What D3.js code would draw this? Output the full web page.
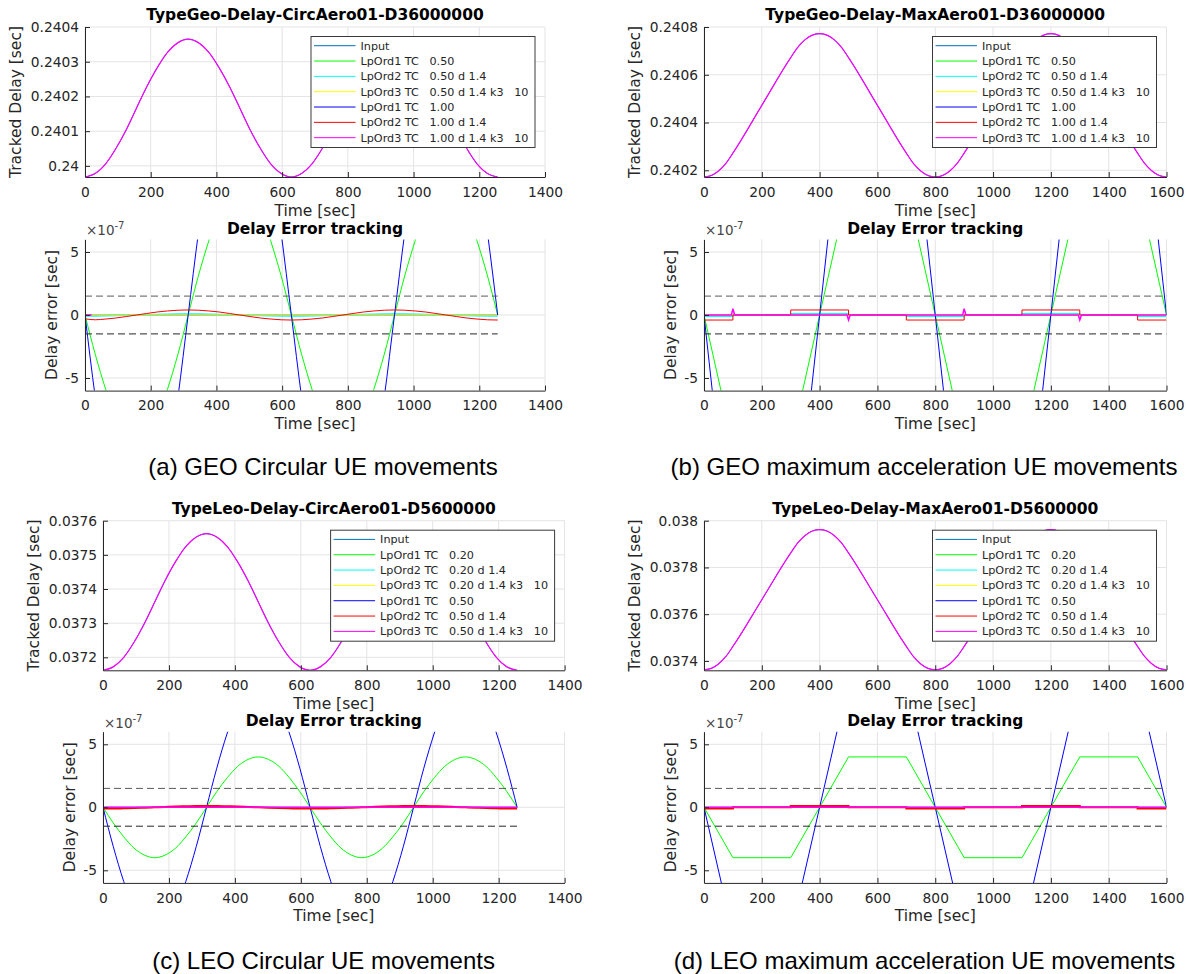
<!DOCTYPE html>
<html><head><meta charset="utf-8">
<script src="https://cdn.jsdelivr.net/npm/d3@7"></script>
<style>
body{margin:0;background:#fff;}
svg{display:block;}
</style></head><body>
<svg id="chart" width="1186" height="974"></svg>
<script>
// ================= DATA =================
// Circular UE movement: sampled time axis [sec]
const circTime = [0,31,63,94,126,157,188,220,251,283,314,345,377,408,440,471,502,534,565,597,628,659,691,722,754,785,816,848,879,911,942,973,1005,1036,1068,1099,1130,1162,1193,1225,1256];
// Max-acceleration UE movement: sampled time axis [sec]
const maxTime = [0,25,50,75,100,200,300,325,350,375,400,425,450,475,500,600,700,725,750,775,800,825,850,875,900,1000,1100,1125,1150,1175,1200,1225,1250,1275,1300,1400,1500,1525,1550,1575,1600];
// Breakpoints of the max-acceleration error profiles [sec]
const maxBreaks = [0,100,300,500,700,900,1100,1300,1500,1600];

// (a) GEO circular: tracked delay [sec]
const geoCircDelay = [0.239968,0.239978,0.240006,0.240050,0.240105,0.240167,0.240228,0.240283,0.240327,0.240355,0.240365,0.240355,0.240327,0.240283,0.240228,0.240167,0.240105,0.240050,0.240006,0.239978,0.239968,0.239978,0.240006,0.240050,0.240105,0.240167,0.240228,0.240283,0.240327,0.240355,0.240365,0.240355,0.240327,0.240283,0.240228,0.240167,0.240105,0.240050,0.240006,0.239978,0.239968];
// (a) GEO circular: delay errors [x1e-7 sec]
const geoCircErrLp1Slow = [0,-3.1,-5.9,-8.2,-9.6,-10.1,-9.6,-8.2,-5.9,-3.1,0,3.1,5.9,8.2,9.6,10.1,9.6,8.2,5.9,3.1,0,-3.1,-5.9,-8.2,-9.6,-10.1,-9.6,-8.2,-5.9,-3.1,0,3.1,5.9,8.2,9.6,10.1,9.6,8.2,5.9,3.1,0];
const geoCircErrLp1Fast = [0,-6.5,-12.3,-17,-20,-21,-20,-17,-12.3,-6.5,0,6.5,12.3,17,20,21,20,17,12.3,6.5,0,-6.5,-12.3,-17,-20,-21,-20,-17,-12.3,-6.5,0,6.5,12.3,17,20,21,20,17,12.3,6.5,0];
const geoCircErrLp2Fast = [-0.3,-0.38,-0.32,-0.24,-0.12,0,0.12,0.24,0.32,0.38,0.4,0.38,0.32,0.24,0.12,0,-0.12,-0.24,-0.32,-0.38,-0.4,-0.38,-0.32,-0.24,-0.12,0,0.12,0.24,0.32,0.38,0.4,0.38,0.32,0.24,0.12,0,-0.12,-0.24,-0.32,-0.38,-0.4];
const geoCircErrLp2Slow = [-0.1,-0.1,-0.08,-0.06,-0.03,0,0.03,0.06,0.08,0.1,0.1,0.1,0.08,0.06,0.03,0,-0.03,-0.06,-0.08,-0.1,-0.1,-0.1,-0.08,-0.06,-0.03,0,0.03,0.06,0.08,0.1,0.1,0.1,0.08,0.06,0.03,0,-0.03,-0.06,-0.08,-0.1,-0.1];

// (b) GEO max acceleration: tracked delay [sec]
const geoMaxDelay = [0.240172,0.240178,0.240197,0.240228,0.240272,0.240472,0.240672,0.240716,0.240747,0.240766,0.240772,0.240766,0.240747,0.240716,0.240672,0.240472,0.240272,0.240228,0.240197,0.240178,0.240172,0.240178,0.240197,0.240228,0.240272,0.240472,0.240672,0.240716,0.240747,0.240766,0.240772,0.240766,0.240747,0.240716,0.240672,0.240472,0.240272,0.240228,0.240197,0.240178,0.240172];
// (b) GEO max acceleration: delay errors [x1e-7 sec] at maxBreaks
const geoMaxErrLp1Slow = [0,-10.2,-10.2,10.2,10.2,-10.2,-10.2,10.2,10.2,0];
const geoMaxErrLp1Fast = [0,-21,-21,21,21,-21,-21,21,21,0];
const geoMaxErrLp2Fast = [-0.4,0,0.4,0,-0.4,0,0.4,0,-0.4,-0.4];
const geoMaxErrLp2Slow = [-0.1,0,0.1,0,-0.1,0,0.1,0,-0.1,-0.1];
const geoMaxLp3Time = [0,95,100,106,495,500,506,895,900,906,1295,1300,1306,1600];
const geoMaxErrLp3Fast = [0,0,0.5,0,0,-0.4,0,0,0.5,0,0,-0.4,0,0];

// (c) LEO circular: tracked delay [sec]
const leoCircDelay = [0.037162,0.037172,0.037200,0.037244,0.037300,0.037362,0.037424,0.037480,0.037524,0.037552,0.037562,0.037552,0.037524,0.037480,0.037424,0.037362,0.037300,0.037244,0.037200,0.037172,0.037162,0.037172,0.037200,0.037244,0.037300,0.037362,0.037424,0.037480,0.037524,0.037552,0.037562,0.037552,0.037524,0.037480,0.037424,0.037362,0.037300,0.037244,0.037200,0.037172,0.037162];
// (c) LEO circular: delay errors [x1e-7 sec]
const leoCircErrLp1Slow = [0,-1.24,-2.35,-3.24,-3.8,-4,-3.8,-3.24,-2.35,-1.24,0,1.24,2.35,3.24,3.8,4,3.8,3.24,2.35,1.24,0,-1.24,-2.35,-3.24,-3.8,-4,-3.8,-3.24,-2.35,-1.24,0,1.24,2.35,3.24,3.8,4,3.8,3.24,2.35,1.24,0];
const leoCircErrLp1Fast = [0,-3.1,-5.9,-8.1,-9.5,-10,-9.5,-8.1,-5.9,-3.1,0,3.1,5.9,8.1,9.5,10,9.5,8.1,5.9,3.1,0,-3.1,-5.9,-8.1,-9.5,-10,-9.5,-8.1,-5.9,-3.1,0,3.1,5.9,8.1,9.5,10,9.5,8.1,5.9,3.1,0];
const leoCircErrLp2Fast = [-0.1,-0.1,-0.08,-0.06,-0.03,0,0.03,0.06,0.08,0.1,0.1,0.1,0.08,0.06,0.03,0,-0.03,-0.06,-0.08,-0.1,-0.1,-0.1,-0.08,-0.06,-0.03,0,0.03,0.06,0.08,0.1,0.1,0.1,0.08,0.06,0.03,0,-0.03,-0.06,-0.08,-0.1,-0.1];

// (d) LEO max acceleration: tracked delay [sec]
const leoMaxDelay = [0.037362,0.037368,0.037387,0.037418,0.037462,0.037662,0.037862,0.037906,0.037937,0.037956,0.037962,0.037956,0.037937,0.037906,0.037862,0.037662,0.037462,0.037418,0.037387,0.037368,0.037362,0.037368,0.037387,0.037418,0.037462,0.037662,0.037862,0.037906,0.037937,0.037956,0.037962,0.037956,0.037937,0.037906,0.037862,0.037662,0.037462,0.037418,0.037387,0.037368,0.037362];
// (d) LEO max acceleration: delay errors [x1e-7 sec] at maxBreaks
const leoMaxErrLp1Slow = [0,-4,-4,4,4,-4,-4,4,4,0];
const leoMaxErrLp1Fast = [0,-10,-10,10,10,-10,-10,10,10,0];
const leoMaxErrLp2Fast = [-0.1,0,0.1,0,-0.1,0,0.1,0,-0.1,-0.1];

// Zero-error traces and thresholds [x1e-7 sec]
const zeroErr = [0,0];
const errThreshold = [1.5,-1.5];

// Tick values
const circXTicks = [0,200,400,600,800,1000,1200,1400];
const maxXTicks = [0,200,400,600,800,1000,1200,1400,1600];
const geoCircYTicks = [0.24,0.2401,0.2402,0.2403,0.2404];
const geoMaxYTicks = [0.2402,0.2404,0.2406,0.2408];
const leoCircYTicks = [0.0372,0.0373,0.0374,0.0375,0.0376];
const leoMaxYTicks = [0.0374,0.0376,0.0378,0.038];
const errYTicks = [-5,0,5];

// Legend labels
const geoLegend = ["Input","LpOrd1 TC   0.50","LpOrd2 TC   0.50 d 1.4","LpOrd3 TC   0.50 d 1.4 k3   10","LpOrd1 TC   1.00","LpOrd2 TC   1.00 d 1.4","LpOrd3 TC   1.00 d 1.4 k3   10"];
const leoLegend = ["Input","LpOrd1 TC   0.20","LpOrd2 TC   0.20 d 1.4","LpOrd3 TC   0.20 d 1.4 k3   10","LpOrd1 TC   0.50","LpOrd2 TC   0.50 d 1.4","LpOrd3 TC   0.50 d 1.4 k3   10"];
const seriesColors = ['#0072BD','#00ff00','#00ffff','#ffff00','#0000ff','#ff0000','#ff00ff'];

// ================= DRAWING =================
const FONT = '"DejaVu Sans", sans-serif';
const INK = '#262626';
const GRID = '#e4e4e4';
const svg = d3.select('#chart');
svg.append('rect').attr('width',1186).attr('height',974).attr('fill','#fff');
const defs = svg.append('defs');
let clipN = 0;

function makeAxes(L, xDomain, yDomain, xTicks, yTicks) {
  const x = d3.scaleLinear().domain(xDomain).range([L.x0, L.x1]);
  const y = d3.scaleLinear().domain(yDomain).range([L.y1, L.y0]);
  const g = svg.append('g');
  g.append('g').selectAll('line').data(xTicks).join('line')
    .attr('x1', d => x(d)).attr('x2', d => x(d)).attr('y1', L.y0).attr('y2', L.y1)
    .attr('stroke', GRID).attr('stroke-width', 1);
  g.append('g').selectAll('line').data(yTicks).join('line')
    .attr('y1', d => y(d)).attr('y2', d => y(d)).attr('x1', L.x0).attr('x2', L.x1)
    .attr('stroke', GRID).attr('stroke-width', 1);
  const id = 'clip' + (clipN++);
  defs.append('clipPath').attr('id', id).append('rect')
    .attr('x', L.x0).attr('y', L.y0).attr('width', L.x1 - L.x0).attr('height', L.y1 - L.y0);
  const plot = g.append('g').attr('clip-path', `url(#${id})`);
  return {x, y, g, plot, L, xTicks, yTicks};
}

function styleAxis(sel, size) {
  sel.attr('font-family', FONT).attr('font-size', size);
  sel.select('.domain').attr('stroke', INK);
  sel.selectAll('.tick line').attr('stroke', INK);
  sel.selectAll('.tick text').attr('fill', INK);
}

function finishAxes(ax, yFmt, title, xLabel, yLabel, yLabelDx, titleDy) {
  const L = ax.L;
  ax.g.append('g').attr('transform', `translate(0,${L.y1})`)
    .call(d3.axisBottom(ax.x).tickValues(ax.xTicks).tickSizeInner(-5).tickSizeOuter(0).tickPadding(10).tickFormat(d => String(d)))
    .call(s => styleAxis(s, 13.8));
  ax.g.append('g').attr('transform', `translate(${L.x0},0)`)
    .call(d3.axisLeft(ax.y).tickValues(ax.yTicks).tickSizeInner(-5).tickSizeOuter(0).tickPadding(6).tickFormat(yFmt))
    .call(s => styleAxis(s, 13.8));
  const cx = (L.x0 + L.x1) / 2;
  ax.g.append('text').attr('x', cx).attr('y', L.y0 - titleDy).attr('text-anchor', 'middle')
    .attr('font-family', FONT).attr('font-size', 15.5).attr('font-weight', 'bold').attr('fill', '#000').text(title);
  ax.g.append('text').attr('x', cx).attr('y', L.y1 + 38.5).attr('text-anchor', 'middle')
    .attr('font-family', FONT).attr('font-size', 15.5).attr('fill', INK).text(xLabel);
  const cy = (L.y0 + L.y1) / 2;
  ax.g.append('text').attr('transform', `translate(${L.x0 - yLabelDx},${cy}) rotate(-90)`).attr('text-anchor', 'middle')
    .attr('font-family', FONT).attr('font-size', 15.5).attr('fill', INK).text(yLabel);
}

function drawSeries(ax, xs, ys, color, opts = {}) {
  const pts = xs.map((t, i) => [t, ys[i]]);
  const line = d3.line().x(d => ax.x(d[0])).y(d => ax.y(d[1])).curve(opts.curve || d3.curveLinear);
  ax.plot.append('path').attr('d', line(pts)).attr('fill', 'none')
    .attr('stroke', color).attr('stroke-width', opts.w || 1)
    .attr('stroke-dasharray', opts.dash || null);
}

function drawLegend(x, y, labels) {
  const g = svg.append('g');
  g.append('rect').attr('x', x + 0.5).attr('y', y + 0.5).attr('width', 224).attr('height', 111)
    .attr('fill', '#fff').attr('stroke', '#3a3a3a').attr('stroke-width', 1);
  labels.forEach((lab, i) => {
    const cy = y + 9.7 + 15.33 * i;
    g.append('line').attr('x1', x + 3.5).attr('x2', x + 45).attr('y1', cy).attr('y2', cy)
      .attr('stroke', seriesColors[i]).attr('stroke-width', 1);
    g.append('text').attr('x', x + 50).attr('y', cy + 4).attr('font-family', FONT).attr('font-size', 11.2)
      .attr('fill', INK).style('white-space', 'pre').text(lab);
  });
}

function drawExponent(ax) {
  const t = ax.g.append('text').attr('x', ax.L.x0 + 1).attr('y', ax.L.y0 - 4)
    .attr('font-family', FONT).attr('font-size', 13.5).attr('fill', '#444');
  t.append('tspan').text('\u00d710');
  t.append('tspan').attr('dy', -6).attr('font-size', 10).text('-7');
}

function drawCaption(cx, y, txt) {
  svg.append('text').attr('x', cx).attr('y', y).attr('text-anchor', 'middle')
    .attr('font-family', '"Liberation Sans", Arial, sans-serif').attr('font-size', 24).attr('fill', '#000').text(txt);
}

const topFmt = d => String(+d.toFixed(4));
const errFmt = d => String(d);

function panel(P) {
  // Top: tracked delay
  const top = makeAxes(P.topL, [0, P.xMax], P.yDomain, P.xTicks, P.yTicks);
  drawSeries(top, P.time, P.delay, seriesColors[0], {curve: d3.curveMonotoneX});
  drawSeries(top, P.time, P.delay, seriesColors[6], {curve: d3.curveMonotoneX, w: 1.2});
  finishAxes(top, topFmt, P.title, 'Time [sec]', 'Tracked Delay [sec]', 63.7, 7);
  drawLegend(P.topL.x1 - 234.5, P.topL.y0 + 9, P.legend);

  // Bottom: delay error
  const bot = makeAxes(P.botL, [0, P.xMax], [-6, 6], P.xTicks, errYTicks);
  const endT = P.errEnd;
  drawSeries(bot, [0, endT], zeroErr, seriesColors[0]);
  P.errSeries.forEach(s => drawSeries(bot, s.t, s.v, s.c, {curve: s.curve || d3.curveLinear, w: s.w || 1}));
  drawSeries(bot, [0, endT], [errThreshold[0], errThreshold[0]], '#5a5a5a', {dash: '7,4'});
  drawSeries(bot, [0, endT], [errThreshold[1], errThreshold[1]], '#262626', {dash: '7,4'});
  finishAxes(bot, errFmt, 'Delay Error tracking', 'Time [sec]', 'Delay error [sec]', 28, 5.5);
  drawExponent(bot);
  drawCaption(P.capX, P.capY, P.caption);
}

const C = d3.curveMonotoneX;
const S = d3.curveStepAfter;

panel({
  topL: {x0: 85, x1: 545, y0: 27, y1: 177}, botL: {x0: 85, x1: 545, y0: 239.4, y1: 390.6},
  xMax: 1400, xTicks: circXTicks, yTicks: geoCircYTicks, yDomain: [0.239968, 0.2404],
  time: circTime, delay: geoCircDelay, title: 'TypeGeo-Delay-CircAero01-D36000000', legend: geoLegend,
  errEnd: 1256,
  errSeries: [
    {t: circTime, v: geoCircErrLp1Slow, c: seriesColors[1], curve: C},
    {t: circTime, v: geoCircErrLp2Slow, c: seriesColors[2], curve: C},
    {t: [0, 1256], v: zeroErr, c: seriesColors[3]},
    {t: circTime, v: geoCircErrLp1Fast, c: seriesColors[4], curve: C},
    {t: circTime, v: geoCircErrLp2Fast, c: seriesColors[5], curve: C},
    {t: [0, 20], v: zeroErr, c: seriesColors[6], w: 1.5}
  ],
  capX: 323, capY: 474.5, caption: '(a) GEO Circular UE movements'
});

panel({
  topL: {x0: 704, x1: 1166.5, y0: 27, y1: 177}, botL: {x0: 704, x1: 1166.5, y0: 239.4, y1: 390.6},
  xMax: 1600, xTicks: maxXTicks, yTicks: geoMaxYTicks, yDomain: [0.240172, 0.2408],
  time: maxTime, delay: geoMaxDelay, title: 'TypeGeo-Delay-MaxAero01-D36000000', legend: geoLegend,
  errEnd: 1600,
  errSeries: [
    {t: maxBreaks, v: geoMaxErrLp1Slow, c: seriesColors[1]},
    {t: maxBreaks, v: geoMaxErrLp2Slow, c: seriesColors[2], curve: S, w: 1.5},
    {t: [0, 1600], v: zeroErr, c: seriesColors[3]},
    {t: maxBreaks, v: geoMaxErrLp1Fast, c: seriesColors[4]},
    {t: maxBreaks, v: geoMaxErrLp2Fast, c: seriesColors[5], curve: S},
    {t: geoMaxLp3Time, v: geoMaxErrLp3Fast, c: seriesColors[6], w: 1.5}
  ],
  capX: 924, capY: 474.5, caption: '(b) GEO maximum acceleration UE movements'
});

panel({
  topL: {x0: 103, x1: 564.6, y0: 520.7, y1: 670.3}, botL: {x0: 103, x1: 564.6, y0: 731.7, y1: 882.9},
  xMax: 1400, xTicks: circXTicks, yTicks: leoCircYTicks, yDomain: [0.037162, 0.0376],
  time: circTime, delay: leoCircDelay, title: 'TypeLeo-Delay-CircAero01-D5600000', legend: leoLegend,
  errEnd: 1256,
  errSeries: [
    {t: circTime, v: leoCircErrLp1Slow, c: seriesColors[1], curve: C},
    {t: [0, 1256], v: zeroErr, c: seriesColors[2]},
    {t: [0, 1256], v: zeroErr, c: seriesColors[3]},
    {t: circTime, v: leoCircErrLp1Fast, c: seriesColors[4], curve: C},
    {t: circTime, v: leoCircErrLp2Fast, c: seriesColors[5], curve: C, w: 2},
    {t: [0, 1256], v: zeroErr, c: seriesColors[6], w: 1.5}
  ],
  capX: 323.6, capY: 968.5, caption: '(c) LEO Circular UE movements'
});

panel({
  topL: {x0: 704, x1: 1166.5, y0: 520.7, y1: 670.3}, botL: {x0: 704, x1: 1166.5, y0: 731.7, y1: 882.9},
  xMax: 1600, xTicks: maxXTicks, yTicks: leoMaxYTicks, yDomain: [0.03736, 0.038],
  time: maxTime, delay: leoMaxDelay, title: 'TypeLeo-Delay-MaxAero01-D5600000', legend: leoLegend,
  errEnd: 1600,
  errSeries: [
    {t: maxBreaks, v: leoMaxErrLp1Slow, c: seriesColors[1]},
    {t: [0, 1600], v: zeroErr, c: seriesColors[2]},
    {t: [0, 1600], v: zeroErr, c: seriesColors[3]},
    {t: maxBreaks, v: leoMaxErrLp1Fast, c: seriesColors[4]},
    {t: maxBreaks, v: leoMaxErrLp2Fast, c: seriesColors[5], curve: S, w: 2},
    {t: [0, 1600], v: zeroErr, c: seriesColors[6], w: 1.5}
  ],
  capX: 924.5, capY: 968.5, caption: '(d) LEO maximum acceleration UE movements'
});
</script>
</body></html>
